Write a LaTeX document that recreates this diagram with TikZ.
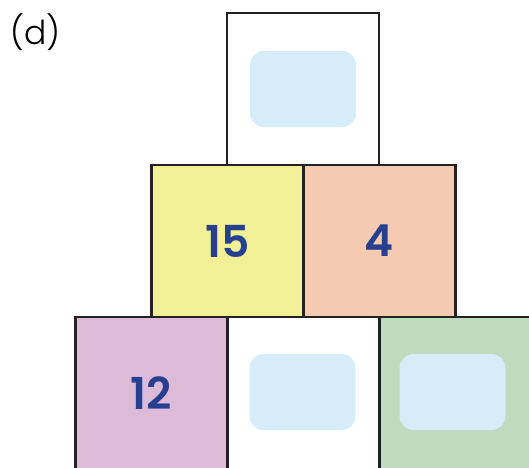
\documentclass[tikz,border=0pt]{standalone}
\usepackage{fontspec}
\setmainfont{Poppins}
\newfontfamily\numfont{Poppins SemiBold}
\newfontfamily\tagfont{Poppins Light}
\usepackage{xcolor}
\usepackage{tikz}
\usetikzlibrary{positioning}

\definecolor{cellline}{HTML}{222222}
\definecolor{numblue}{HTML}{263F8F}
\definecolor{cellyellow}{HTML}{F2F096}
\definecolor{cellpeach}{HTML}{F4CBB0}
\definecolor{cellpurple}{HTML}{DDBAD8}
\definecolor{cellgreen}{HTML}{BDDCBE}
\definecolor{slotblue}{HTML}{D5ECF9}

\tikzset{
  cell/.style={draw=cellline, line width=2.8pt, minimum width=152pt,
    minimum height=152pt, inner sep=0pt, outer sep=0pt,
    font=\fontsize{44}{48}\selectfont\numfont, text=numblue},
  slot/.style={fill=slotblue, rounded corners=14pt, minimum width=106pt,
    minimum height=76pt, inner sep=0pt},
}

\begin{document}
\begin{tikzpicture}[x=1pt, y=-1pt]
  \useasboundingbox (0,0) rectangle (529,467);
  \clip (0,0) rectangle (529,467);

  % ── Label ──
  \node[font=\fontsize{33}{37}\selectfont\tagfont, anchor=west, inner sep=0pt] (tag) at (10,32) {(d)};

  % ── Top row ──
  \node[cell, fill=white] (top) at (303,89) {};
  \node[slot] (topslot) at (top.center) {};

  % ── Middle row ──
  \node[cell, fill=cellyellow] (midl) at (227.5,241) {15};
  \node[cell, fill=cellpeach, right=0pt of midl] (midr) {4};

  % ── Bottom row ──
  \node[cell, fill=cellpurple] (botl) at (151.5,393) {12};
  \node[cell, fill=white, right=0pt of botl] (botm) {};
  \node[cell, fill=cellgreen, right=0pt of botm] (botr) {};
  \node[slot] (botmslot) at ([xshift=-1pt,yshift=1pt]botm.center) {};
  \node[slot] (botrslot) at ([xshift=-3pt,yshift=1pt]botr.center) {};
\end{tikzpicture}
\end{document}
